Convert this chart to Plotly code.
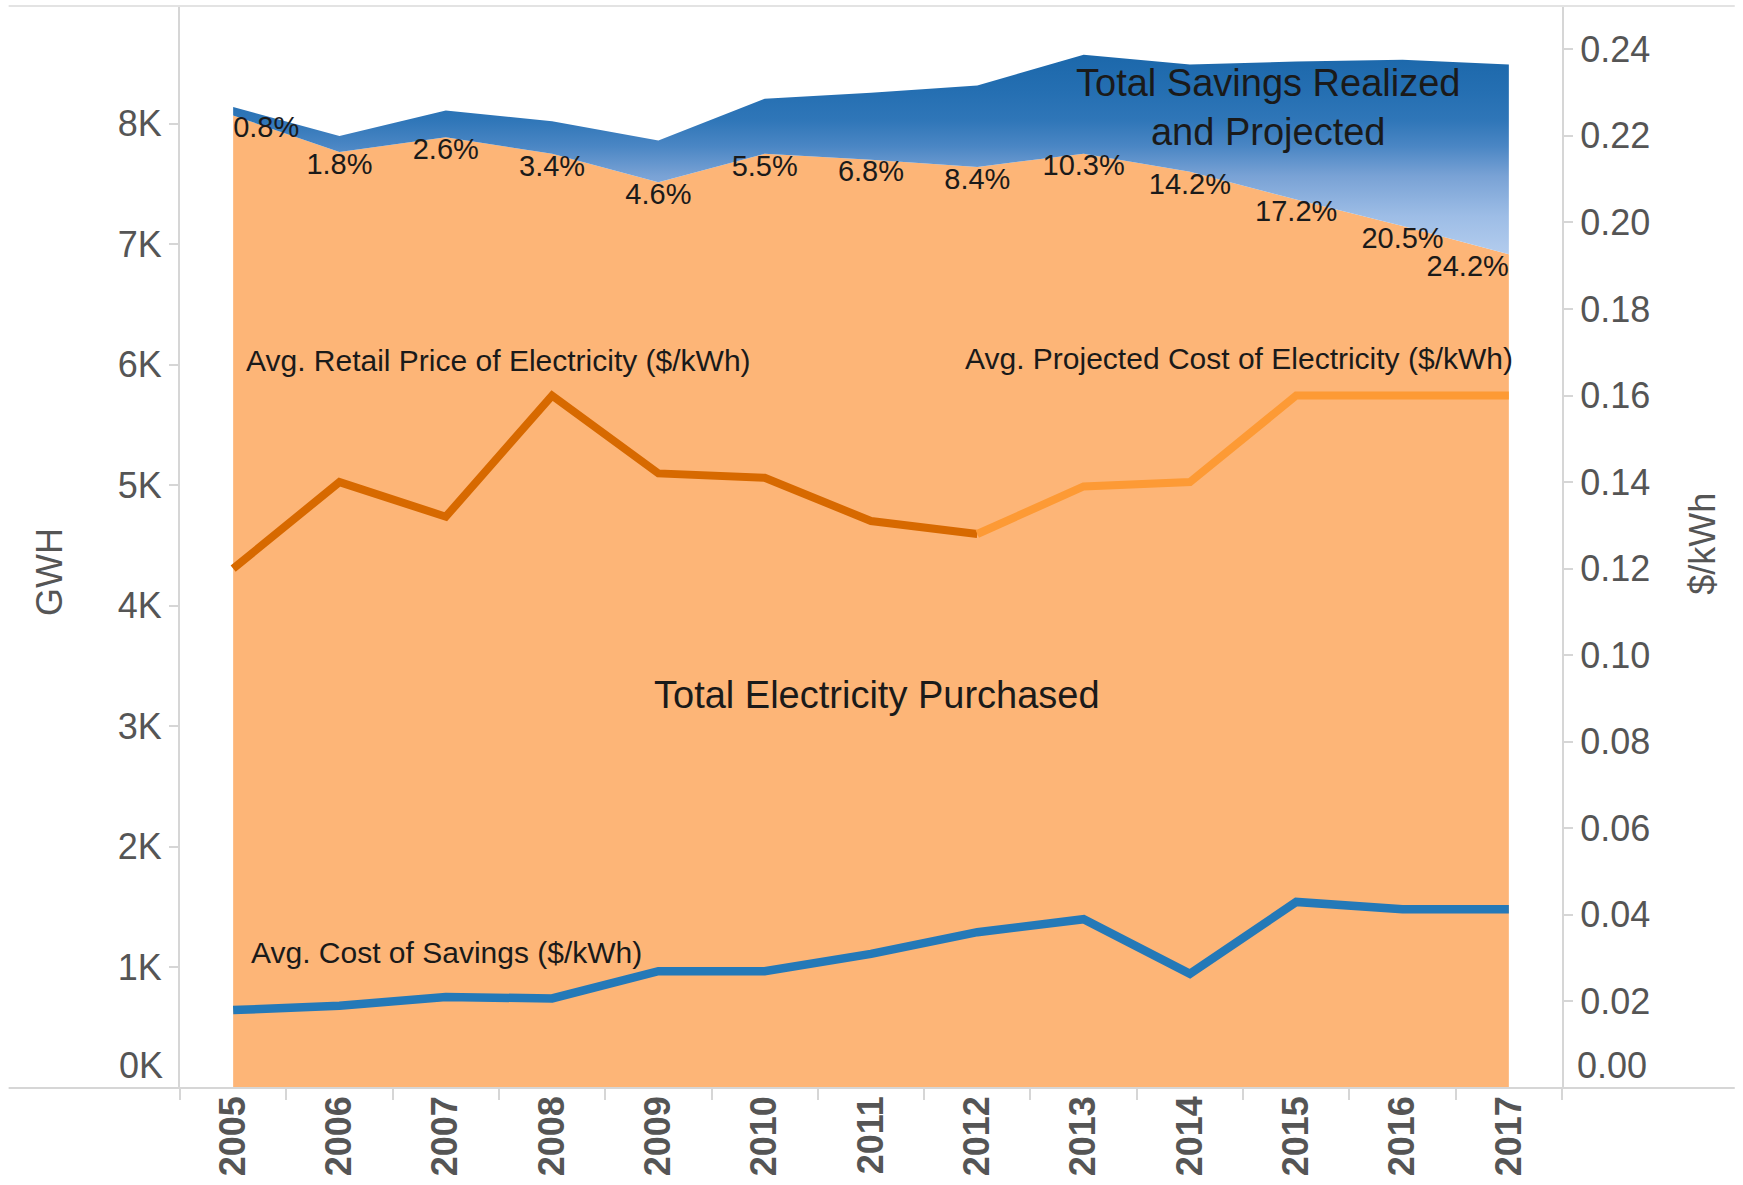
import plotly.graph_objects as go

# --- data ------------------------------------------------------------------
years = ["2005", "2006", "2007", "2008", "2009", "2010", "2011",
         "2012", "2013", "2014", "2015", "2016", "2017"]

# GWh, left axis
purchased_gwh = [8067, 7763, 7887, 7749, 7514, 7749, 7700,
                 7640, 7750, 7600, 7370, 7150, 6915]
savings_gwh = [70, 133, 222, 269, 346, 457, 556,
               676, 821, 890, 1145, 1380, 1575]
savings_pct = ["0.8%", "1.8%", "2.6%", "3.4%", "4.6%", "5.5%", "6.8%",
               "8.4%", "10.3%", "14.2%", "17.2%", "20.5%", "24.2%"]

# $/kWh, right axis
retail_years = ["2005", "2006", "2007", "2008", "2009", "2010", "2011", "2012"]
retail_price = [0.120, 0.140, 0.132, 0.160, 0.142, 0.141, 0.131, 0.128]
projected_years = ["2012", "2013", "2014", "2015", "2016", "2017"]
projected_cost = [0.128, 0.139, 0.140, 0.160, 0.160, 0.160]
cost_of_savings = [0.018, 0.019, 0.021, 0.0207, 0.027, 0.027, 0.031,
                   0.036, 0.039, 0.0264, 0.043, 0.0413, 0.0413]

# the zero labels are drawn separately (Tableau lifts them off the baseline)
gwh_ticks = [1000, 2000, 3000, 4000, 5000, 6000, 7000, 8000]
gwh_ticktext = ["1K", "2K", "3K", "4K", "5K", "6K", "7K", "8K"]
price_ticks = [0.02, 0.04, 0.06, 0.08, 0.10, 0.12,
               0.14, 0.16, 0.18, 0.20, 0.22, 0.24]

FONT = "Arial, Liberation Sans, sans-serif"
ORANGE_FILL = "#fdb577"
RETAIL = "#d76900"
PROJECTED = "#fd9a35"
BLUE_LINE = "#2479b8"
AXIS_GREY = "#d6d6d6"
TICK_TEXT = "#555555"

fig = go.Figure()

fig.add_trace(go.Scatter(
    x=years, y=purchased_gwh, stackgroup="energy", mode="lines",
    line=dict(width=0, color=ORANGE_FILL), fillcolor=ORANGE_FILL,
    hoverinfo="skip", showlegend=False,
))
fig.add_trace(go.Scatter(
    x=years, y=savings_gwh, stackgroup="energy", mode="lines",
    line=dict(width=0, color="#1d6aae"),
    fillgradient=dict(
        type="vertical", start=6900, stop=8560,
        colorscale=[[0, "#b4cdee"], [0.2, "#9dbde6"], [0.4, "#79a2d5"],
                    [0.55, "#4a86c4"], [0.68, "#2f76b8"], [0.82, "#256fb2"],
                    [1, "#1c68ab"]],
    ),
    hoverinfo="skip", showlegend=False,
))

# percentage labels sit just under the purchased/savings boundary
pct_pos = ["bottom center"] * len(years)
pct_pos[0] = "bottom right"
pct_pos[-1] = "bottom left"
fig.add_trace(go.Scatter(
    x=years, y=purchased_gwh, mode="text", text=savings_pct,
    textposition=pct_pos, textfont=dict(family=FONT, size=29, color="#1a1a1a"),
    hoverinfo="skip", showlegend=False, cliponaxis=False,
))

line_kw = dict(mode="lines", yaxis="y2", hoverinfo="skip", showlegend=False)
fig.add_trace(go.Scatter(x=retail_years, y=retail_price,
                         line=dict(color=RETAIL, width=8), **line_kw))
fig.add_trace(go.Scatter(x=projected_years, y=projected_cost,
                         line=dict(color=PROJECTED, width=8), **line_kw))
fig.add_trace(go.Scatter(x=years, y=cost_of_savings,
                         line=dict(color=BLUE_LINE, width=8.5), **line_kw))

label_font = dict(family=FONT, size=30, color="#1a1a1a")
big_font = dict(family=FONT, size=38, color="#1a1a1a")
tick_font = dict(family=FONT, size=36, color=TICK_TEXT)
annotations = [
    dict(text="Avg. Retail Price of Electricity ($/kWh)", x=0.046, y=0.672,
         xanchor="left", font=label_font),
    dict(text="Avg. Projected Cost of Electricity ($/kWh)", x=0.966, y=0.674,
         xanchor="right", font=label_font),
    dict(text="Avg. Cost of Savings ($/kWh)", x=0.050, y=0.125,
         xanchor="left", font=label_font),
    dict(text="Total Electricity Purchased", x=0.504, y=0.363,
         xanchor="center", font=big_font),
    dict(text="Total Savings Realized<br>and Projected", x=0.787, y=0.906,
         xanchor="center", font=big_font),
    dict(text="GWH", x=-0.094, y=0.477, xanchor="center", textangle=-90,
         font=tick_font),
    dict(text="$/kWh", x=1.102, y=0.503, xanchor="center", textangle=-90,
         font=tick_font),
    dict(text="0K", x=-0.0105, y=0.021, xanchor="right", font=tick_font),
    dict(text="0.00", x=1.0095, y=0.021, xanchor="left", font=tick_font),
]
for a in annotations:
    a.update(xref="paper", yref="paper", yanchor="middle", showarrow=False)

fig.update_layout(
    width=1743, height=1185, autosize=False,
    margin=dict(l=180, r=181, t=6, b=97),
    plot_bgcolor="#ffffff", paper_bgcolor="#ffffff",
    font=dict(family=FONT, color=TICK_TEXT),
    showlegend=False,
    annotations=annotations,
    xaxis=dict(
        type="category", range=[-0.5, 12.5], tickson="boundaries",
        ticks="outside", ticklen=11, tickcolor=AXIS_GREY, tickwidth=2,
        tickangle=-90, showgrid=False, zeroline=False, showline=False,
        tickfont=dict(family=FONT, size=36, color=TICK_TEXT, weight="bold"),
    ),
    yaxis=dict(
        range=[0, 8975], tickvals=gwh_ticks, ticktext=gwh_ticktext,
        ticks="outside", ticklen=9, tickcolor=AXIS_GREY, tickwidth=2,
        showline=True, linecolor=AXIS_GREY, linewidth=2,
        showgrid=False, zeroline=False, tickfont=tick_font,
    ),
    yaxis2=dict(
        range=[0, 0.25], overlaying="y", side="right",
        tickvals=price_ticks, tickformat=".2f",
        ticks="outside", ticklen=9, tickcolor=AXIS_GREY, tickwidth=2,
        showline=True, linecolor=AXIS_GREY, linewidth=2,
        showgrid=False, zeroline=False, tickfont=tick_font,
    ),
    shapes=[
        dict(type="line", xref="paper", yref="paper", x0=-0.124, x1=1.125,
             y0=0, y1=0, line=dict(color=AXIS_GREY, width=2), layer="above"),
        dict(type="line", xref="paper", yref="paper", x0=-0.124, x1=1.125,
             y0=1, y1=1, line=dict(color="#e3e3e3", width=2), layer="above"),
    ],
)

# drop the browser's default 8px body margin so the figure sits at (0, 0)
fig.write_html("out.html", config={"displayModeBar": False},
               post_script="document.body.style.margin = '0';")
